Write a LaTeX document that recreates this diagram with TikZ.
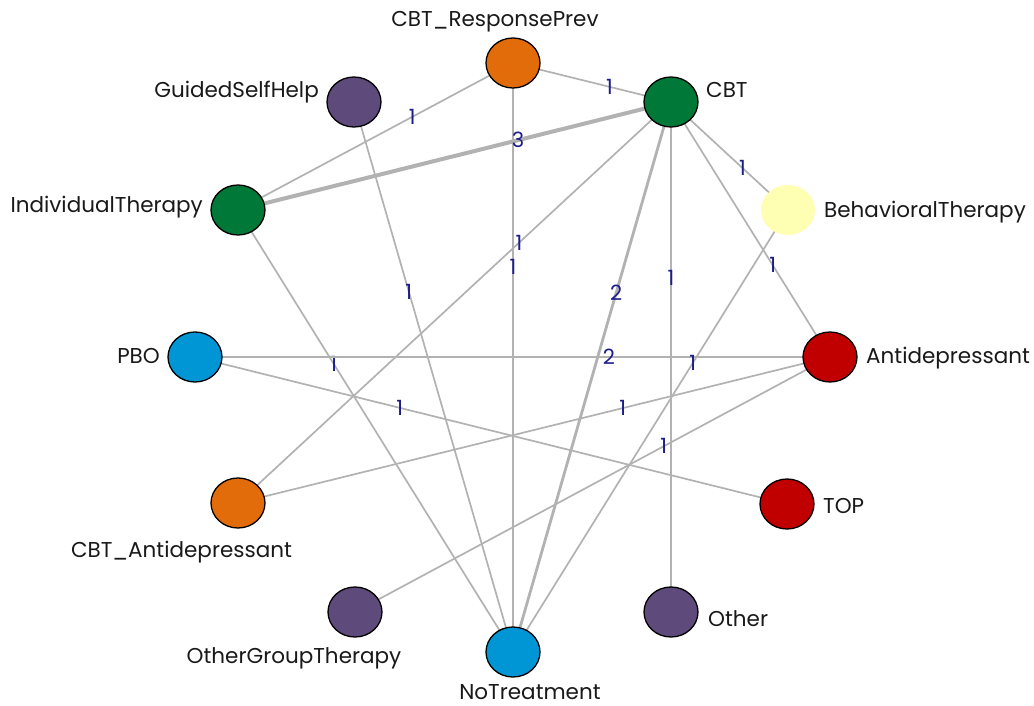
\documentclass[tikz,border=0pt]{standalone}
\usepackage{fontspec}
\setmainfont{Poppins}
\usetikzlibrary{backgrounds,shapes.geometric}
\definecolor{edgegray}{RGB}{178,178,178}
\definecolor{labnavy}{RGB}{28,28,140}
\definecolor{corange}{RGB}{227,108,10}
\definecolor{cgreen}{RGB}{0,120,56}
\definecolor{cpurple}{RGB}{94,74,123}
\definecolor{cblue}{RGB}{0,150,214}
\definecolor{cred}{RGB}{192,0,0}
\definecolor{cyellow}{RGB}{255,255,179}
\begin{document}
\begin{tikzpicture}[x=1pt,y=-1pt,
  nd/.style={ellipse,draw=black,line width=1.3pt,minimum width=54pt,minimum height=50pt,inner sep=0pt},
  txt/.style={inner sep=0pt,font=\fontsize{21.5}{25}\selectfont,text=black!90},
  elab/.style={inner sep=0pt,font=\fontsize{21}{25}\selectfont,text=labnavy},
  ethin/.style={draw=edgegray,line width=1.7pt},
  etwo/.style={draw=edgegray,line width=2.8pt},
  ethree/.style={draw=edgegray,line width=4pt}]
\useasboundingbox (0,0) rectangle (1034,706);
% nodes
\node[nd,fill=corange] (RP) at (513,63) {};
\node[nd,fill=cgreen] (CBT) at (671,102) {};
\node[nd,fill=cyellow,draw=none] (BT) at (788,210) {};
\node[nd,fill=cred] (Ant) at (830,357) {};
\node[nd,fill=cred] (TOP) at (787,504) {};
\node[nd,fill=cpurple] (Oth) at (671,612) {};
\node[nd,fill=cblue] (NT) at (513,652) {};
\node[nd,fill=cpurple] (OGT) at (355,612) {};
\node[nd,fill=corange] (CBTA) at (238,503) {};
\node[nd,fill=cblue] (PBO) at (195,357) {};
\node[nd,fill=cgreen] (IT) at (238,210) {};
\node[nd,fill=cpurple] (GSH) at (354,102) {};
% node texts
\node[txt,anchor=base] (tRP) at (495,27) {CBT\_ResponsePrev};
\node[txt,anchor=base west] (tCBT) at (706,98) {CBT};
\node[txt,anchor=base west] (tBT) at (824,217) {BehavioralTherapy};
\node[txt,anchor=base west] (tAnt) at (866,363) {Antidepressant};
\node[txt,anchor=base west] (tTOP) at (823,513) {TOP};
\node[txt,anchor=base west] (tOth) at (708,626) {Other};
\node[txt,anchor=base] (tNT) at (530,699) {NoTreatment};
\node[txt,anchor=base] (tOGT) at (294,663) {OtherGroupTherapy};
\node[txt,anchor=base] (tCBTA) at (181.5,557) {CBT\_Antidepressant};
\node[txt,anchor=base east] (tPBO) at (160,363) {PBO};
\node[txt,anchor=base east] (tIT) at (203,212) {IndividualTherapy};
\node[txt,anchor=base east] (tGSH) at (319,98) {GuidedSelfHelp};
% edges
\begin{scope}[on background layer]
\draw[ethin] (CBT.center) -- node[elab,pos=0.39] {1} (RP.center);
\draw[ethin] (RP.center) -- node[elab,pos=0.366] {1} (IT.center);
\draw[ethin] (RP.center) -- node[elab,pos=0.346] {1} (NT.center);
\draw[ethree] (CBT.center) -- node[elab,pos=0.353] {3} (IT.center);
\draw[ethin] (CBT.center) -- node[elab,pos=0.351] {1} (CBTA.center);
\draw[ethin] (GSH.center) -- node[elab,pos=0.345] {1} (NT.center);
\draw[ethin] (IT.center) -- node[elab,pos=0.348] {1} (NT.center);
\draw[ethin] (PBO.center) -- node[elab,pos=0.346] {1} (TOP.center);
\draw[ethin] (BT.center) -- node[elab,pos=0.39] {1} (CBT.center);
\draw[ethin] (Ant.center) -- node[elab,pos=0.36] {1} (CBT.center);
\draw[etwo] (Ant.center) -- node[elab,pos=0.348] {2} (PBO.center);
\draw[ethin] (BT.center) -- node[elab,pos=0.346] {1} (NT.center);
\draw[ethin] (Ant.center) -- node[elab,pos=0.35] {1} (CBTA.center);
\draw[ethin] (Ant.center) -- node[elab,pos=0.35] {1} (OGT.center);
\draw[etwo] (CBT.center) -- node[elab,pos=0.347] {2} (NT.center);
\draw[ethin] (CBT.center) -- node[elab,pos=0.345] {1} (Oth.center);
\end{scope}
\end{tikzpicture}
\end{document}
